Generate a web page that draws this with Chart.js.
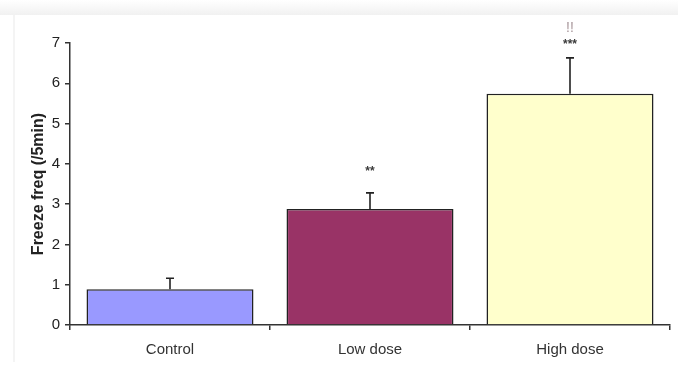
<!DOCTYPE html>
<html>
<head>
<meta charset="utf-8">
<script src="https://cdn.jsdelivr.net/npm/chart.js@4/dist/chart.umd.min.js"></script>
<style>
  html, body { margin: 0; padding: 0; background: #ffffff; }
  #wrap { width: 678px; height: 372px; position: relative; }
</style>
</head>
<body>
<div id="wrap"><canvas id="c" width="678" height="372"></canvas></div>
<script>
// Freezing frequency per 5 min by treatment group
const groups = ['Control', 'Low dose', 'High dose'];
const freezeMean = [0.89, 2.88, 5.74];
const freezeSEM = [0.27, 0.40, 0.89];
const barColors = ['#9999ff', '#993366', '#ffffcc'];
const sigMarks = ['', '**', '***'];
const sigMarks2 = ['', '', '!!'];
const yTicks = [0, 1, 2, 3, 4, 5, 6, 7];

const FONT = '"Liberation Sans", Arial, sans-serif';

// Page background with the faint frame band at the top
const backdrop = {
  id: 'backdrop',
  beforeDraw(chart) {
    const ctx = chart.ctx;
    ctx.save();
    ctx.fillStyle = '#ffffff';
    ctx.fillRect(0, 0, chart.width, chart.height);
    const g = ctx.createLinearGradient(0, 0, 0, 16);
    g.addColorStop(0, '#ffffff');
    g.addColorStop(1, '#f0f0f0');
    ctx.fillStyle = g;
    ctx.fillRect(0, 0, chart.width, 15);
    ctx.fillStyle = '#f4f4f4';
    ctx.fillRect(13, 15, 2, chart.height - 25);
    ctx.restore();
  }
};

// Upward error bars (mean + SEM) with a short cap, plus significance marks
const errorBars = {
  id: 'errorBars',
  afterDatasetsDraw(chart) {
    const ctx = chart.ctx;
    const xs = chart.scales.x;
    const ys = chart.scales.y;
    ctx.save();
    ctx.strokeStyle = '#222222';
    ctx.lineWidth = 1.6;
    freezeMean.forEach((m, i) => {
      const x = xs.getPixelForValue(i);
      const y0 = ys.getPixelForValue(m);
      const y1 = ys.getPixelForValue(m + freezeSEM[i]);
      ctx.beginPath();
      ctx.moveTo(x, y0);
      ctx.lineTo(x, y1);
      ctx.moveTo(x - 4, y1);
      ctx.lineTo(x + 4, y1);
      ctx.stroke();

      ctx.textAlign = 'center';
      ctx.textBaseline = 'middle';
      if (sigMarks[i]) {
        ctx.fillStyle = '#3a3a3a';
        ctx.font = 'bold 12px ' + FONT;
        const gap = i === 1 ? 21 : 13;
        ctx.fillText(sigMarks[i], x, y1 - gap);
      }
      if (sigMarks2[i]) {
        ctx.fillStyle = '#a8979b';
        ctx.font = '14px ' + FONT;
        ctx.fillText(sigMarks2[i], x, y1 - 30);
      }
    });
    ctx.restore();
  }
};

new Chart(document.getElementById('c'), {
  type: 'bar',
  data: {
    labels: groups,
    datasets: [{
      data: freezeMean,
      backgroundColor: barColors,
      borderColor: '#222222',
      borderWidth: 1.6,
      borderSkipped: 'bottom',
      barPercentage: 0.835,
      categoryPercentage: 1.0
    }]
  },
  options: {
    responsive: false,
    animation: false,
    devicePixelRatio: 1,
    layout: { padding: { top: 43, right: 8, left: 0, bottom: 0 } },
    plugins: {
      legend: { display: false },
      tooltip: { enabled: false }
    },
    scales: {
      x: {
        offset: true,
        grid: {
          offset: true,
          drawOnChartArea: false,
          drawTicks: true,
          tickLength: 5,
          color: '#333333',
          lineWidth: 1.5
        },
        border: { display: true, color: '#333333', width: 1.5 },
        ticks: {
          color: '#333333',
          padding: 11,
          font: { family: FONT, size: 15 }
        },
        afterFit(scale) { scale.height = 47; }
      },
      y: {
        min: 0,
        max: 7,
        afterBuildTicks(scale) { scale.ticks = yTicks.map(v => ({ value: v })); },
        grid: {
          drawOnChartArea: false,
          drawTicks: true,
          tickLength: 5,
          color: '#333333',
          lineWidth: 1.5
        },
        border: { display: true, color: '#333333', width: 1.5 },
        ticks: {
          color: '#222222',
          padding: 5,
          font: { family: FONT, size: 15 }
        },
        title: {
          display: true,
          text: 'Freeze freq (/5min)',
          color: '#222222',
          font: { family: FONT, size: 16, weight: 'bold' },
          padding: { top: 29, bottom: 0 }
        },
        afterFit(scale) { scale.width = 70; }
      }
    }
  },
  plugins: [backdrop, errorBars]
});
</script>
</body>
</html>
